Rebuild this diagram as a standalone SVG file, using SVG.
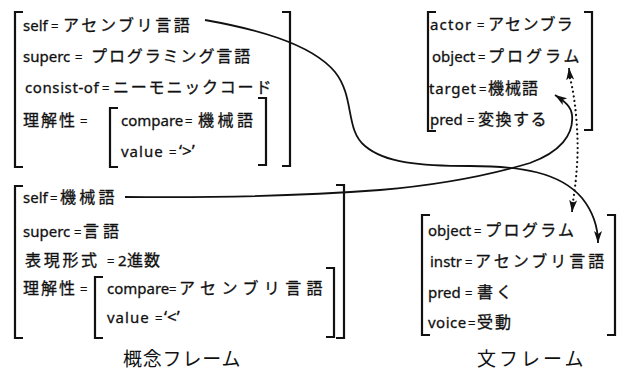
<svg xmlns="http://www.w3.org/2000/svg" width="623" height="383" viewBox="0 0 623 383">
<style>
.t{font-family:"Noto Sans","DejaVu Sans",sans-serif;font-size:15px;fill:#111;stroke:#111;stroke-width:0.3}
.e{font-size:13px}
.q{font-size:17px}
.j{font-family:"Noto Sans CJK JP","Noto Sans",sans-serif;font-size:16px}
.lab{font-family:"Noto Sans CJK JP",sans-serif;font-size:19px;fill:#111}
.br{fill:none;stroke:#111;stroke-width:2.2}
.c{fill:none;stroke:#111;stroke-width:1.8}
.d{fill:none;stroke:#111;stroke-width:2.2;stroke-linecap:round;stroke-dasharray:0.1 4.6}
</style>
<defs>
<marker id="ah" markerUnits="userSpaceOnUse" markerWidth="14" markerHeight="10" refX="12" refY="4" orient="auto-start-reverse">
<path d="M0,0 L12,4 L0,8 L3,4 Z" fill="#111"/>
</marker>
</defs>
<rect width="623" height="383" fill="#fff"/>

<g id="frame-assembler-concept">
<path class="br" d="M23,12 H15 V167 H23"/>
<path class="br" d="M282,12 H290 V166 H282"/>
<path class="br" d="M118,108 H110 V167 H118"/>
<path class="br" d="M258,98 H266 V165 H258"/>
<text class="t" y="31"><tspan x="23">self</tspan><tspan class="e" x="51">=</tspan><tspan class="j" x="63" letter-spacing="2.6">アセンブリ言語</tspan></text>
<text class="t" y="62"><tspan x="23">superc</tspan><tspan class="e" x="75">=</tspan><tspan class="j" x="91" letter-spacing="1.9">プログラミング言語</tspan></text>
<text class="t" y="93"><tspan x="25" letter-spacing="0.6">consist-of</tspan><tspan class="e" x="102">=</tspan><tspan class="j" x="113" letter-spacing="1.8">ニーモニックコード</tspan></text>
<text class="t" y="126"><tspan class="j" x="23" letter-spacing="2">理解性</tspan><tspan class="e" x="80">=</tspan><tspan x="121">compare</tspan><tspan class="e" x="185">=</tspan><tspan class="j" x="198" letter-spacing="3.5">機械語</tspan></text>
<text class="t" y="157"><tspan x="121" letter-spacing="1">value</tspan><tspan class="e" x="169">=</tspan><tspan class="q" x="179">‘&gt;’</tspan></text>
</g>

<g id="frame-machine-concept">
<path class="br" d="M23,186 H15 V338 H23"/>
<path class="br" d="M336,185 H344 V338 H336"/>
<path class="br" d="M103,277 H95 V338 H103"/>
<path class="br" d="M326,268 H334 V337 H326"/>
<text class="t" y="203"><tspan x="23">self</tspan><tspan class="e" x="50">=</tspan><tspan class="j" x="60" letter-spacing="3.3">機械語</tspan></text>
<text class="t" y="237"><tspan x="23">superc</tspan><tspan class="e" x="74">=</tspan><tspan class="j" x="83" letter-spacing="4">言語</tspan></text>
<text class="t" y="266"><tspan class="j" x="25" letter-spacing="2.7">表現形式</tspan><tspan class="e" x="107">=</tspan><tspan x="118">2</tspan><tspan class="j" x="127" letter-spacing="1">進数</tspan></text>
<text class="t" y="294"><tspan class="j" x="23" letter-spacing="2">理解性</tspan><tspan class="e" x="80">=</tspan><tspan x="107">compare</tspan><tspan class="e" x="169">=</tspan><tspan class="j" x="179" letter-spacing="5.4">アセンブリ言語</tspan></text>
<text class="t" y="323"><tspan x="107" letter-spacing="1">value</tspan><tspan class="e" x="155">=</tspan><tspan class="q" x="164">‘&lt;’</tspan></text>
</g>

<g id="frame-sentence-convert">
<path class="br" d="M436,12 H428 V131 H436"/>
<path class="br" d="M584,12 H592 V130 H584"/>
<text class="t" y="30"><tspan x="430" letter-spacing="1.2">actor</tspan><tspan class="e" x="477">=</tspan><tspan class="j" x="488" letter-spacing="1.4">アセンブラ</tspan></text>
<text class="t" y="62"><tspan x="432">object</tspan><tspan class="e" x="478">=</tspan><tspan class="j" x="488" letter-spacing="3">プログラム</tspan></text>
<text class="t" y="94"><tspan x="429" letter-spacing="0.8">target</tspan><tspan class="e" x="479">=</tspan><tspan class="j" x="488" letter-spacing="1">機械語</tspan></text>
<text class="t" y="125"><tspan x="430">pred</tspan><tspan class="e" x="467">=</tspan><tspan class="j" x="478" letter-spacing="1.5">変換する</tspan></text>
</g>

<g id="frame-sentence-write">
<path class="br" d="M430,215 H422 V335 H430"/>
<path class="br" d="M607,215 H615 V335 H607"/>
<text class="t" y="236"><tspan x="428">object</tspan><tspan class="e" x="474">=</tspan><tspan class="j" x="485" letter-spacing="2.4">プログラム</tspan></text>
<text class="t" y="267"><tspan x="430">instr</tspan><tspan class="e" x="465">=</tspan><tspan class="j" x="475" letter-spacing="3">アセンブリ言語</tspan></text>
<text class="t" y="298"><tspan x="428">pred</tspan><tspan class="e" x="465">=</tspan><tspan class="j" x="477" letter-spacing="3">書く</tspan></text>
<text class="t" y="328"><tspan x="428" letter-spacing="0.5">voice</tspan><tspan class="e" x="468">=</tspan><tspan class="j" x="477" letter-spacing="2">受動</tspan></text>
</g>

<g id="connectors">
<path class="c" marker-end="url(#ah)" d="M205,20 C250,28 310,42 335,72 C355,97 345,130 365,146 C385,163 420,166 470,166 C520,166 560,172 582,198 C594,213 598,228 598,243"/>
<path class="c" marker-end="url(#ah)" d="M125,197 C220,198 300,196 380,190 C450,184 500,172 530,163 C560,152 574,135 572,115 C571,106 564,101 555,95"/>
<path class="d" d="M570,78 C576,100 579,140 577,165 C576,182 574,194 573,202"/>
<path class="c" stroke-width="0" marker-start="url(#ah)" marker-end="url(#ah)" d="M569,68 L570,78 M573,202 L572,212"/>
</g>

<g id="labels">
<text class="lab" x="123" y="366" letter-spacing="0.8">概念フレーム</text>
<text class="lab" x="477" y="366" letter-spacing="3">文フレーム</text>
</g>
</svg>
